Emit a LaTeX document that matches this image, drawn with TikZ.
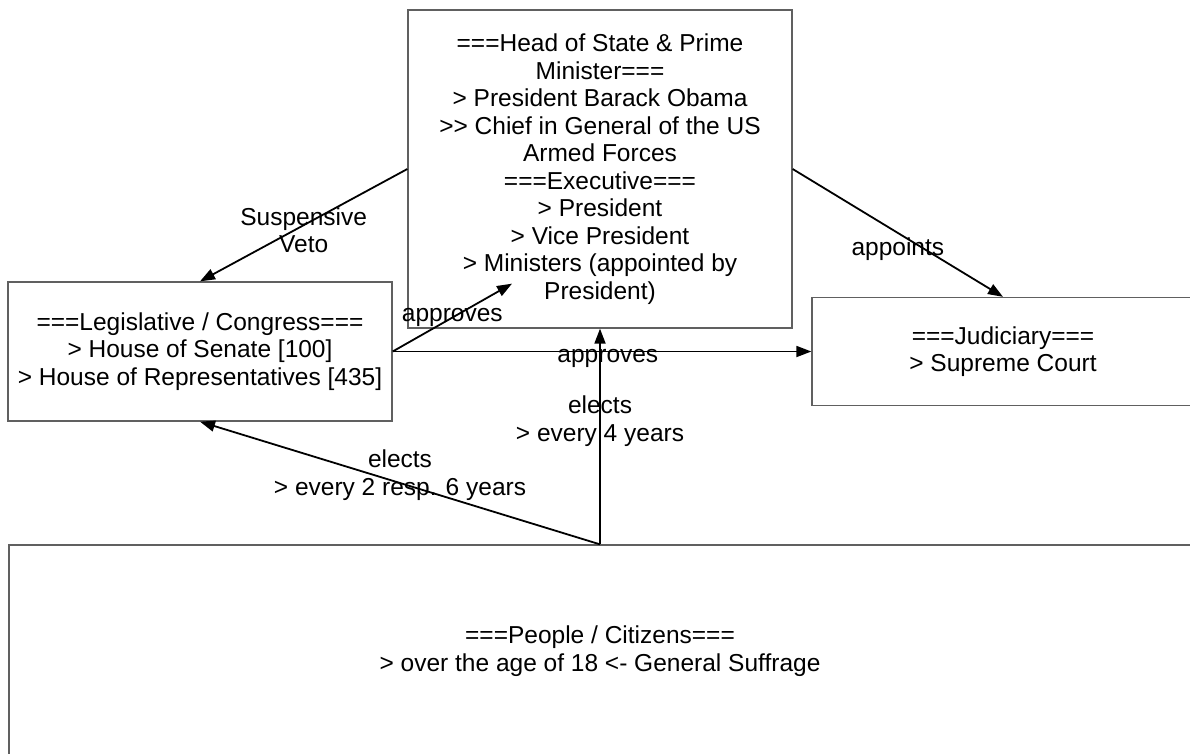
\documentclass[tikz,border=0pt]{standalone}
\usepackage{fontspec}
\setmainfont{Liberation Sans}[Ligatures=NoCommon]
\usetikzlibrary{arrows.meta,calc}
\begin{document}
\begin{tikzpicture}[x=1pt,y=-1pt,
  every node/.style={font=\fontsize{24.5}{27.5}\selectfont, align=center, inner sep=0pt},
  box/.style={draw=gray!75!black, line width=1.3pt, rectangle},
  conn/.style={draw=black, line width=1.8pt, -{Triangle[length=15pt,width=11pt]}},
  lbl/.style={}]
\useasboundingbox (0,0) rectangle (1190,753);
\clip (0,0) rectangle (1190,753);
\node[box, minimum width=384pt, minimum height=318pt] (head) at (600,169)
  {===Head of State \& Prime\\Minister===\\> President Barack Obama\\{>}{>} Chief in General of the US\\Armed Forces\\===Executive===\\> President\\> Vice President\\> Ministers (appointed by\\President)};
\node[box, minimum width=384pt, minimum height=139pt] (leg) at (200,351.5)
  {===Legislative / Congress===\\> House of Senate [100]\\> House of Representatives [435]};
\node[box, minimum width=382pt, minimum height=108pt] (jud) at (1003,351.5)
  {===Judiciary===\\> Supreme Court};
\node[box, minimum width=1182pt, minimum height=212pt] (people) at (600,651)
  {===People / Citizens===\\> over the age of 18 <- General Suffrage};
\coordinate (appr) at ($(head.south)+(-88,-45)$);
\draw[conn] (head.west) -- node[lbl, pos=0.5, yshift=-5pt] {Suspensive\\Veto} (leg.north);
\draw[conn] (head.east) -- node[lbl, pos=0.5, yshift=-16pt] {appoints} (jud.north);
\draw[conn] (leg.east) -- node[lbl, pos=0.5] {approves} (appr);
\draw[conn] (leg.east) -- node[lbl, pos=0.514, yshift=-6.5pt] {approves} (jud.west);
\draw[conn] (people.north) -- node[lbl, pos=0.571] {elects\\> every 4 years} (head.south);
\draw[conn] (people.north) -- node[lbl, pos=0.5, yshift=8pt] {elects\\> every 2 resp. 6 years} (leg.south);
\end{tikzpicture}
\end{document}
